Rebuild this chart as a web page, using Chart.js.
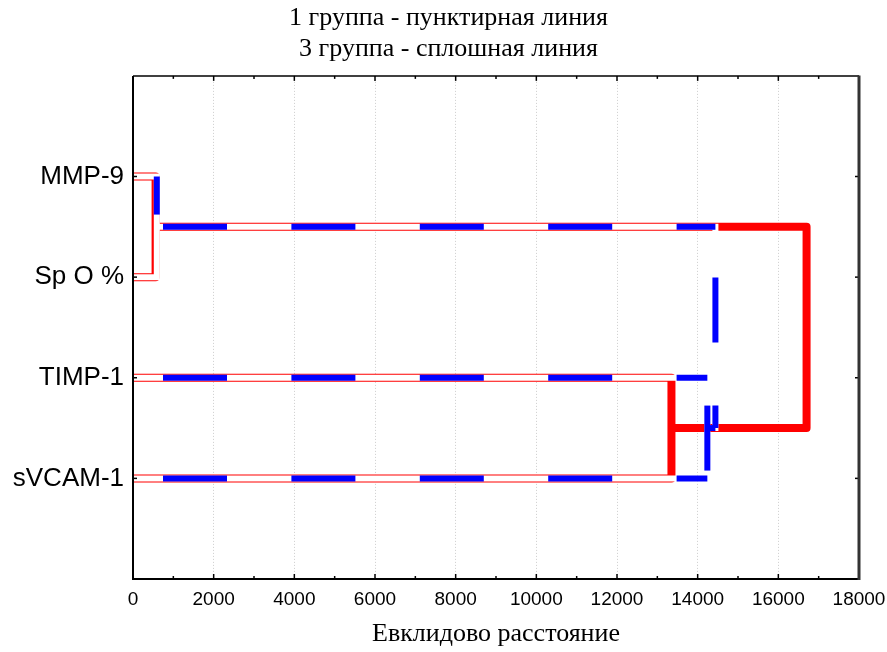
<!DOCTYPE html>
<html>
<head>
<meta charset="utf-8">
<script src="https://cdn.jsdelivr.net/npm/chart.js@4.4.0/dist/chart.umd.min.js"></script>
<style>
	html, body { margin: 0; padding: 0; background: #fff; }
</style>
</head>
<body>
<canvas id="myChart" width="887" height="652"></canvas>
<script>
// leaves of the tree, top to bottom
var leaves = ["MMP-9", "Sp O %", "TIMP-1", "sVCAM-1"];
// joins: cluster ids 0-3 are leaves, 4 = first join, 5 = second join
var joinLeft = [0, 2, 4];
var joinRight = [1, 3, 5];
// join distances
var group1Dist = [590, 14240, 14440];   // 1 группа, dashed
var group3Dist = [560, 13350, 16700];   // 3 группа, solid

var titleLines = ["1 группа - пунктирная линия", "3 группа - сплошная линия"];
var xTitle = "Евклидово расстояние";
var xMin = 0, xMax = 18000, xStep = 2000, xMinorStep = 1000;

// U-shaped links of the dendrogram, one array of 4 points per join
function treeLinks(dist) {
	var pos = leaves.map(function (l, i) { return i; });
	var height = leaves.map(function () { return 0; });
	var links = [];
	for (var k = 0; k < dist.length; k++) {
		var a = joinLeft[k], b = joinRight[k], h = dist[k];
		links.push([{x: height[a], y: pos[a]}, {x: h, y: pos[a]}, {x: h, y: pos[b]}, {x: height[b], y: pos[b]}]);
		pos.push((pos[a] + pos[b]) / 2);
		height.push(h);
	}
	return links;
}
// whole tree as one line, null point breaks it between links
function treePath(dist) {
	var pts = [];
	treeLinks(dist).forEach(function (l) { pts = pts.concat(l, [{x: null, y: null}]); });
	return pts;
}
// straight pieces, two points each
function treePieces(dist) {
	var pieces = [];
	treeLinks(dist).forEach(function (l) {
		for (var i = 0; i < l.length - 1; i++) pieces.push([l[i], l[i + 1]]);
	});
	return pieces;
}

// dashes in the original are lined up across the whole plot, not per line
var dashH = [64, 64.4], dashV = [65, 63];
function dashOffset(c) {
	var area = c.chart.chartArea;
	var xs = c.chart.scales.x, ys = c.chart.scales.y;
	if (!area || !xs || !ys || !c.dataset) return 0;
	var d = c.dataset.data;
	var horiz = d[0].y === d[1].y;
	var pat = horiz ? dashH : dashV;
	var per = pat[0] + pat[1];
	var anchor = horiz ? area.left + 30 : area.top + 73.7;
	var a = horiz ? xs.getPixelForValue(d[0].x) : ys.getPixelForValue(d[0].y);
	var b = horiz ? xs.getPixelForValue(d[1].x) : ys.getPixelForValue(d[1].y);
	var off = b >= a ? a - anchor : anchor + pat[0] - a;
	off = ((off % per) + per) % per;
	return isFinite(off) ? off : 0;
}

// frame and inward tick marks, drawn over the lines
var framePlugin = {
	id: "frame",
	afterDatasetsDraw: function (chart) {
		var c = chart.ctx, a = chart.chartArea;
		var xs = chart.scales.x, ys = chart.scales.y;
		function seg(x1, y1, x2, y2) {
			c.beginPath(); c.moveTo(x1, y1); c.lineTo(x2, y2); c.stroke();
		}
		c.save();
		c.strokeStyle = "#000";
		c.lineWidth = 1.5;
		for (var v = xMin; v <= xMax; v += xMinorStep) {
			var px = xs.getPixelForValue(v);
			var len = v % xStep === 0 ? 5 : 3;
			seg(px, a.bottom, px, a.bottom - len);
			seg(px, a.top, px, a.top + len);
		}
		for (var i = 0; i < leaves.length; i++) {
			var py = ys.getPixelForValue(i);
			seg(a.left, py, a.left + 4, py);
			seg(a.right, py, a.right - 4, py);
		}
		c.lineWidth = 2;
		seg(a.left, a.top, a.left, a.bottom + 1);
		seg(a.left - 1, a.bottom, a.right, a.bottom);
		c.lineWidth = 1.5;
		seg(a.left, a.top, a.right, a.top);
		c.strokeStyle = "#333";
		c.lineWidth = 3;
		seg(a.right, a.top - 0.5, a.right, a.bottom + 1);
		c.restore();
	}
};

var ctx = document.getElementById("myChart").getContext("2d");

// 1 группа: blue dashes, each straight piece on its own
var dts = treePieces(group1Dist).map(function (p) {
	return {
		data: p,
		borderColor: "#0000ff",
		borderWidth: 6,
		borderCapStyle: "butt",
		borderDash: p[0].y === p[1].y ? dashH : dashV,
		borderDashOffset: dashOffset,
		order: 1
	};
});
dts.push({
	// white under the dashes
	data: treePath(group1Dist),
	borderColor: "#ffffff",
	borderWidth: 6,
	borderCapStyle: "butt",
	borderJoinStyle: "miter",
	order: 2
});
dts.push({
	// 3 группа: solid red
	data: treePath(group3Dist),
	borderColor: "#ff0000",
	borderWidth: 8,
	borderCapStyle: "butt",
	borderJoinStyle: "round",
	order: 3
});
dts.forEach(function (d) {
	d.pointRadius = 0;
	d.tension = 0;
	d.fill = false;
	d.spanGaps = false;
});

var chart = new Chart(ctx, {
	type: "line",
	data: { datasets: dts },
	plugins: [framePlugin],
	options: {
		responsive: false,
		animation: false,
		events: [],
		layout: { padding: { left: 10, right: 0, top: 0, bottom: 0 } },
		plugins: {
			legend: { display: false },
			tooltip: { enabled: false },
			title: {
				display: true,
				text: titleLines,
				color: "#000",
				font: { family: "Liberation Serif", size: 26, weight: "normal", lineHeight: 1.19 },
				padding: { top: 3, bottom: 11 }
			}
		},
		scales: {
			x: {
				type: "linear",
				min: xMin,
				max: xMax,
				ticks: {
					stepSize: xStep,
					color: "#000",
					maxRotation: 0,
					padding: 9,
					font: { family: "Liberation Sans", size: 19 },
					callback: function (v) { return String(v); }
				},
				grid: { color: "rgba(0,0,0,0.2)", lineWidth: 1, drawTicks: false },
				border: { display: false, dash: [1, 2] },
				title: {
					display: true,
					text: xTitle,
					color: "#000",
					font: { family: "Liberation Serif", size: 26, weight: "normal" },
					padding: { top: 4, bottom: 2 }
				},
				afterFit: function (s) { s.height = 73; s.paddingRight = 0; }
			},
			y: {
				type: "linear",
				reverse: true,
				min: -1,
				max: leaves.length,
				ticks: {
					stepSize: 1,
					color: "#000",
					padding: 9,
					font: { family: "Liberation Sans", size: 26 },
					callback: function (v) { return leaves[v] || ""; }
				},
				grid: { display: false, drawTicks: false },
				border: { display: false },
				afterFit: function (s) { s.width = 123; }
			},
			// empty box on the right, keeps room for the last x label
			yRight: {
				type: "linear",
				position: "right",
				ticks: { display: false },
				grid: { display: false, drawTicks: false },
				border: { display: false },
				afterFit: function (s) { s.width = 28; }
			}
		}
	}
});
</script>
</body>
</html>
